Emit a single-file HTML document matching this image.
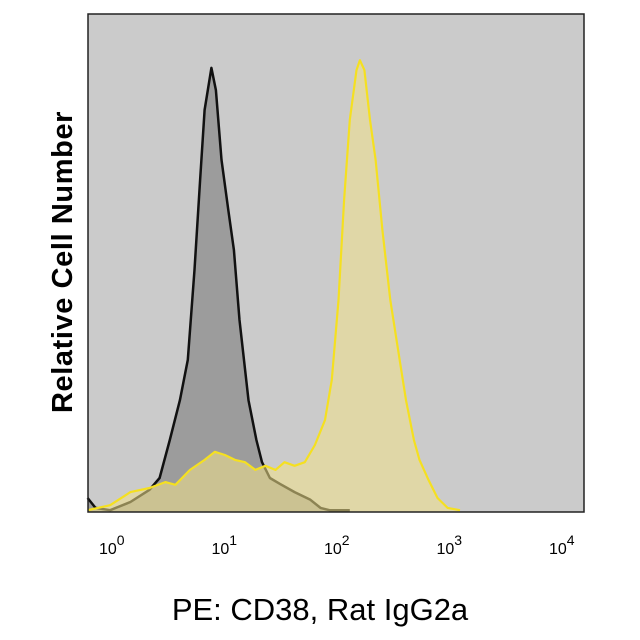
<!DOCTYPE html>
<html><head><meta charset="utf-8"><style>
body{margin:0;background:#fff;}
svg{display:block;font-family:"Liberation Sans",Arial,sans-serif;}
</style></head><body>
<svg width="640" height="640" viewBox="0 0 640 640">
<rect x="88" y="14" width="496" height="498" fill="#cbcbcb"/>
<g id="series"></g>
<rect x="88" y="14" width="496" height="498" fill="none" stroke="#222" stroke-width="1.5"/>
<g id="ticks"></g>
<text x="72" y="262" transform="rotate(-90 72 262)" text-anchor="middle" font-size="29" font-weight="bold" letter-spacing="0.6" fill="#000">Relative Cell Number</text>
<text x="320" y="620" text-anchor="middle" font-size="31" fill="#000">PE: CD38, Rat IgG2a</text>
</svg>
<script>
const tickExps=[0,1,2,3,4];
const isoLog=[-0.19,-0.12,0.01,0.19,0.36,0.45,0.54,0.63,0.70,0.76,0.81,0.85,0.91,0.95,1.00,1.06,1.11,1.16,1.24,1.31,1.36,1.43,1.52,1.65,1.79,1.88,1.96,2.14];
const isoCount=[3.1,0.9,0.4,2.2,4.9,7.5,15.9,24.7,33.6,53.5,73.3,88.8,98.1,93.2,77.8,66.7,57.9,42.4,24.7,15.9,11.0,7.5,6.2,4.4,2.7,0.9,0.4,0.4];
const cdLog=[-0.19,0.01,0.19,0.36,0.50,0.59,0.72,0.85,0.94,1.03,1.12,1.21,1.30,1.39,1.48,1.56,1.65,1.74,1.83,1.92,1.98,2.04,2.09,2.14,2.20,2.23,2.27,2.32,2.37,2.43,2.50,2.57,2.64,2.71,2.76,2.84,2.92,3.01,3.12];
const cdCount=[0.4,1.5,4.4,5.3,6.6,6.0,9.3,11.5,13.3,12.6,11.5,11.0,9.3,10.2,9.3,11.0,10.2,11.0,14.8,20.3,29.2,46.8,68.9,86.6,97.6,99.8,97.6,86.6,77.8,62.3,46.8,35.8,24.7,15.9,11.5,7.1,3.1,0.9,0.4];
const NS="http://www.w3.org/2000/svg";
const xs=L=>109+112.5*L;
const ys=c=>512-c*(498/110);
const xL=xs(-0.19);
function pts(lx,cy){return lx.map((l,i)=>Math.max(xL,xs(l)).toFixed(1)+","+ys(cy[i]).toFixed(1));}
const g=document.getElementById('series');
function draw(lx,cy,fill,stroke,name,op,sw){
  const p=pts(lx,cy);
  const area=document.createElementNS(NS,'polygon');
  area.setAttribute('points',[Math.max(xL,xs(lx[0])).toFixed(1)+",512"].concat(p,[xs(lx[lx.length-1]).toFixed(1)+",512"]).join(' '));
  area.setAttribute('fill',fill);area.setAttribute('fill-opacity',op);
  
  
  g.appendChild(area);
  const line=document.createElementNS(NS,'polyline');
  line.setAttribute('points',p.join(' '));
  line.setAttribute('fill','none');line.setAttribute('stroke',stroke);line.setAttribute('stroke-width',sw);line.setAttribute('stroke-linejoin','round');
  
  
  g.appendChild(line);
}
draw(isoLog,isoCount,'#9c9c9c','#111','isotype-histogram',1,2.5);
draw(cdLog,cdCount,'#f2e28a','#f5e020','cd38-histogram',0.55,2.2);
const t=document.getElementById('ticks');
tickExps.forEach(e=>{
  const tx=document.createElementNS(NS,'text');
  tx.setAttribute('x',xs(e)-10);tx.setAttribute('y',554);tx.setAttribute('font-size','16');
  
  
  tx.innerHTML='10<tspan dy="-9" font-size="14">'+e+'</tspan>';
  t.appendChild(tx);
});
</script>
</body></html>
